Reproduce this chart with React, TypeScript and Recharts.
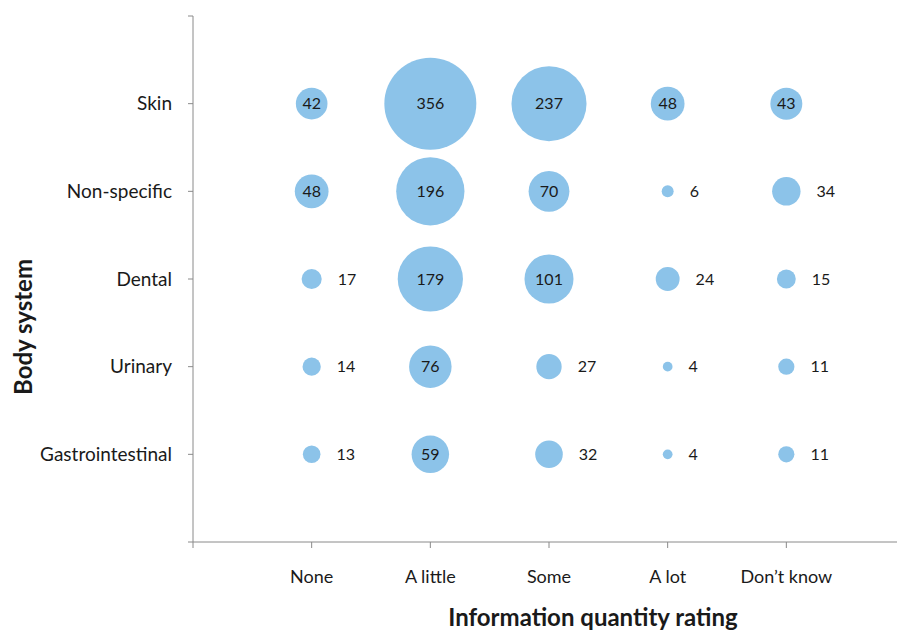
import React from 'react';
import { ScatterChart, Scatter, XAxis, YAxis, ZAxis, Label } from 'recharts';

// Rating categories along the x-axis (positions 1..5)
const ratings = ['None', 'A little', 'Some', 'A lot', 'Don\u2019t know'];

// Body systems along the y-axis, top to bottom (positions 5..1)
const systems = ['Skin', 'Non-specific', 'Dental', 'Urinary', 'Gastrointestinal'];

// Counts per body system, in rating order
const skin = [42, 356, 237, 48, 43];
const nonSpecific = [48, 196, 70, 6, 34];
const dental = [17, 179, 101, 24, 15];
const urinary = [14, 76, 27, 4, 11];
const gastrointestinal = [13, 59, 32, 4, 11];

const rows = [skin, nonSpecific, dental, urinary, gastrointestinal];

const bubbleData = rows.flatMap((vals, r) =>
    vals.map((v, c) => ({ x: c + 1, y: systems.length - r, z: v }))
);

const axisTicks = [0, 1, 2, 3, 4, 5, 6];
const colors = {
    bubble: '#8cc3e9',
    axis: '#8a8a8a',
    text: '#1a1a1a',
};
const font = 'Lato, "Open Sans", sans-serif';

const Bubble = (props: any) => {
    const { cx, cy, width, payload } = props;
    const r = width / 2;
    // big bubbles carry their count inside, small ones to the right
    const inside = payload.z >= 40;
    return (
        <g>
            <circle cx={cx} cy={cy} r={r} fill={colors.bubble} />
            <text
                x={inside ? cx : cx + r + 16}
                y={cy}
                dy="0.35em"
                textAnchor={inside ? 'middle' : 'start'}
                fontSize={16}
                fontFamily={font}
                fill={colors.text}
            >
                {payload.z}
            </text>
        </g>
    );
};

export default function App() {
    return (
        <div style={{ position: 'fixed', left: 0, top: 0, width: 897, height: 630, overflow: 'hidden', background: '#fff' }}>
            <ScatterChart width={910} height={630} margin={{ top: 16, right: 5, bottom: 0, left: 0 }}>
                <XAxis
                    type="number"
                    dataKey="x"
                    domain={[0, 6]}
                    ticks={axisTicks}
                    tickFormatter={(v) => ratings[v - 1] ?? ''}
                    height={88}
                    tickSize={6}
                    tickMargin={22}
                    stroke={colors.axis}
                    tick={{ fill: colors.text, fontSize: 18, fontFamily: font }}
                    interval={0}
                >
                    <Label
                        content={() => (
                            <text x={593} y={626} textAnchor="middle" fontSize={24} fontWeight="bold" fontFamily={font} fill={colors.text}>
                                Information quantity rating
                            </text>
                        )}
                    />
                </XAxis>
                <YAxis
                    type="number"
                    dataKey="y"
                    domain={[0, 6]}
                    ticks={axisTicks}
                    tickFormatter={(v) => systems[systems.length - v] ?? ''}
                    width={193}
                    tickSize={5}
                    tickMargin={16}
                    stroke={colors.axis}
                    tick={{ fill: colors.text, fontSize: 19, fontFamily: font }}
                    interval={0}
                >
                    <Label
                        content={() => (
                            <text x={32} y={327} transform="rotate(-90 32 327)" textAnchor="middle" fontSize={24} fontWeight="bold" fontFamily={font} fill={colors.text}>
                                Body system
                            </text>
                        )}
                    />
                </YAxis>
                <ZAxis type="number" dataKey="z" domain={[0, 356]} range={[0, Math.PI * 46 * 46]} />
                <Scatter data={bubbleData} shape={Bubble} isAnimationActive={false} />
            </ScatterChart>
        </div>
    );
}
